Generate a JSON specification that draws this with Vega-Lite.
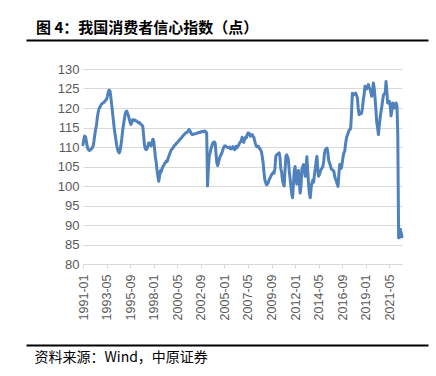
{
"$schema": "https://vega.github.io/schema/vega-lite/v6.json",
"width": 319, "height": 195,
"autosize": {"type": "none"},
"padding": {"left": 83, "top": 69, "right": 34, "bottom": 112},
"background": "white",
"config": {"view": {"stroke": null}},
"title": {"text": "图 4：我国消费者信心指数（点）", "anchor": "start", "frame": "group", "font": "Noto Sans CJK SC", "fontSize": 15, "fontWeight": "bold", "color": "black", "dx": -47},
"data": {"values": [
{"date":"1991-01-01","value":110.6},{"date":"1991-02-01","value":112.0},{"date":"1991-03-01","value":112.8},{"date":"1991-04-01","value":112.6},{"date":"1991-05-01","value":111.5},{"date":"1991-06-01","value":110.2},{"date":"1991-07-01","value":109.5},{"date":"1991-08-01","value":109.2},{"date":"1991-09-01","value":109.1},{"date":"1991-10-01","value":109.3},{"date":"1991-11-01","value":109.5},{"date":"1991-12-01","value":109.8},
{"date":"1992-01-01","value":110.2},{"date":"1992-02-01","value":111.5},{"date":"1992-03-01","value":113.0},{"date":"1992-04-01","value":114.5},{"date":"1992-05-01","value":115.5},{"date":"1992-06-01","value":117.5},{"date":"1992-07-01","value":118.8},{"date":"1992-08-01","value":119.8},{"date":"1992-09-01","value":120.2},{"date":"1992-10-01","value":120.6},{"date":"1992-11-01","value":121.0},{"date":"1992-12-01","value":121.2},
{"date":"1993-01-01","value":121.3},{"date":"1993-02-01","value":121.5},{"date":"1993-03-01","value":121.7},{"date":"1993-04-01","value":122.0},{"date":"1993-05-01","value":122.2},{"date":"1993-06-01","value":123.0},{"date":"1993-07-01","value":124.0},{"date":"1993-08-01","value":124.6},{"date":"1993-09-01","value":124.4},{"date":"1993-10-01","value":123.0},{"date":"1993-11-01","value":121.0},{"date":"1993-12-01","value":119.0},
{"date":"1994-01-01","value":117.0},{"date":"1994-02-01","value":115.0},{"date":"1994-03-01","value":113.5},{"date":"1994-04-01","value":112.0},{"date":"1994-05-01","value":110.5},{"date":"1994-06-01","value":109.5},{"date":"1994-07-01","value":108.8},{"date":"1994-08-01","value":108.5},{"date":"1994-09-01","value":109.0},{"date":"1994-10-01","value":110.3},{"date":"1994-11-01","value":112.0},{"date":"1994-12-01","value":114.0},
{"date":"1995-01-01","value":115.5},{"date":"1995-02-01","value":117.0},{"date":"1995-03-01","value":118.3},{"date":"1995-04-01","value":119.0},{"date":"1995-05-01","value":119.2},{"date":"1995-06-01","value":118.6},{"date":"1995-07-01","value":118.0},{"date":"1995-08-01","value":117.2},{"date":"1995-09-01","value":116.3},{"date":"1995-10-01","value":115.8},{"date":"1995-11-01","value":116.3},{"date":"1995-12-01","value":117.0},
{"date":"1996-01-01","value":117.0},{"date":"1996-02-01","value":116.8},{"date":"1996-03-01","value":116.9},{"date":"1996-04-01","value":116.7},{"date":"1996-05-01","value":116.6},{"date":"1996-06-01","value":116.4},{"date":"1996-07-01","value":116.2},{"date":"1996-08-01","value":116.3},{"date":"1996-09-01","value":116.0},{"date":"1996-10-01","value":115.8},{"date":"1996-11-01","value":115.6},{"date":"1996-12-01","value":115.3},
{"date":"1997-01-01","value":113.0},{"date":"1997-02-01","value":110.5},{"date":"1997-03-01","value":109.6},{"date":"1997-04-01","value":109.3},{"date":"1997-05-01","value":109.5},{"date":"1997-06-01","value":110.2},{"date":"1997-07-01","value":111.0},{"date":"1997-08-01","value":111.0},{"date":"1997-09-01","value":110.5},{"date":"1997-10-01","value":110.3},{"date":"1997-11-01","value":111.0},{"date":"1997-12-01","value":112.0},
{"date":"1998-01-01","value":111.5},{"date":"1998-02-01","value":109.5},{"date":"1998-03-01","value":107.5},{"date":"1998-04-01","value":106.0},{"date":"1998-05-01","value":104.0},{"date":"1998-06-01","value":102.5},{"date":"1998-07-01","value":101.2},{"date":"1998-08-01","value":102.5},{"date":"1998-09-01","value":104.0},{"date":"1998-10-01","value":103.6},{"date":"1998-11-01","value":104.5},{"date":"1998-12-01","value":105.0},
{"date":"1999-01-01","value":105.3},{"date":"1999-02-01","value":105.8},{"date":"1999-03-01","value":106.0},{"date":"1999-04-01","value":106.4},{"date":"1999-05-01","value":106.3},{"date":"1999-06-01","value":107.0},{"date":"1999-07-01","value":107.6},{"date":"1999-08-01","value":108.2},{"date":"1999-09-01","value":108.8},{"date":"1999-10-01","value":109.3},{"date":"1999-11-01","value":109.5},{"date":"1999-12-01","value":109.8},
{"date":"2000-01-01","value":110.2},{"date":"2000-02-01","value":110.5},{"date":"2000-03-01","value":110.6},{"date":"2000-04-01","value":111.0},{"date":"2000-05-01","value":111.1},{"date":"2000-06-01","value":111.4},{"date":"2000-07-01","value":111.6},{"date":"2000-08-01","value":111.9},{"date":"2000-09-01","value":112.2},{"date":"2000-10-01","value":112.3},{"date":"2000-11-01","value":112.7},{"date":"2000-12-01","value":112.9},
{"date":"2001-01-01","value":113.2},{"date":"2001-02-01","value":113.4},{"date":"2001-03-01","value":113.6},{"date":"2001-04-01","value":113.7},{"date":"2001-05-01","value":113.9},{"date":"2001-06-01","value":114.1},{"date":"2001-07-01","value":114.5},{"date":"2001-08-01","value":114.2},{"date":"2001-09-01","value":113.7},{"date":"2001-10-01","value":113.3},{"date":"2001-11-01","value":113.2},{"date":"2001-12-01","value":113.3},
{"date":"2002-01-01","value":113.3},{"date":"2002-02-01","value":113.4},{"date":"2002-03-01","value":113.4},{"date":"2002-04-01","value":113.5},{"date":"2002-05-01","value":113.6},{"date":"2002-06-01","value":113.6},{"date":"2002-07-01","value":113.8},{"date":"2002-08-01","value":113.7},{"date":"2002-09-01","value":113.8},{"date":"2002-10-01","value":114.0},{"date":"2002-11-01","value":114.0},{"date":"2002-12-01","value":113.9},
{"date":"2003-01-01","value":114.1},{"date":"2003-02-01","value":114.1},{"date":"2003-03-01","value":113.8},{"date":"2003-04-01","value":113.6},{"date":"2003-05-01","value":100.0},{"date":"2003-06-01","value":104.5},{"date":"2003-07-01","value":107.6},{"date":"2003-08-01","value":108.5},{"date":"2003-09-01","value":109.5},{"date":"2003-10-01","value":110.2},{"date":"2003-11-01","value":110.9},{"date":"2003-12-01","value":111.2},
{"date":"2004-01-01","value":111.3},{"date":"2004-02-01","value":111.0},{"date":"2004-03-01","value":108.5},{"date":"2004-04-01","value":106.0},{"date":"2004-05-01","value":105.2},{"date":"2004-06-01","value":106.0},{"date":"2004-07-01","value":107.0},{"date":"2004-08-01","value":107.6},{"date":"2004-09-01","value":108.0},{"date":"2004-10-01","value":108.5},{"date":"2004-11-01","value":109.2},{"date":"2004-12-01","value":109.8},
{"date":"2005-01-01","value":110.2},{"date":"2005-02-01","value":110.3},{"date":"2005-03-01","value":110.1},{"date":"2005-04-01","value":110.0},{"date":"2005-05-01","value":109.8},{"date":"2005-06-01","value":109.9},{"date":"2005-07-01","value":110.0},{"date":"2005-08-01","value":109.6},{"date":"2005-09-01","value":109.5},{"date":"2005-10-01","value":109.8},{"date":"2005-11-01","value":110.1},{"date":"2005-12-01","value":109.6},
{"date":"2006-01-01","value":109.3},{"date":"2006-02-01","value":109.5},{"date":"2006-03-01","value":110.2},{"date":"2006-04-01","value":109.8},{"date":"2006-05-01","value":110.2},{"date":"2006-06-01","value":110.5},{"date":"2006-07-01","value":111.0},{"date":"2006-08-01","value":111.3},{"date":"2006-09-01","value":111.5},{"date":"2006-10-01","value":112.5},{"date":"2006-11-01","value":111.5},{"date":"2006-12-01","value":111.2},
{"date":"2007-01-01","value":112.0},{"date":"2007-02-01","value":112.5},{"date":"2007-03-01","value":112.3},{"date":"2007-04-01","value":113.0},{"date":"2007-05-01","value":113.6},{"date":"2007-06-01","value":113.6},{"date":"2007-07-01","value":113.3},{"date":"2007-08-01","value":112.8},{"date":"2007-09-01","value":112.9},{"date":"2007-10-01","value":113.2},{"date":"2007-11-01","value":112.7},{"date":"2007-12-01","value":112.5},
{"date":"2008-01-01","value":111.5},{"date":"2008-02-01","value":110.8},{"date":"2008-03-01","value":110.2},{"date":"2008-04-01","value":110.0},{"date":"2008-05-01","value":110.2},{"date":"2008-06-01","value":110.0},{"date":"2008-07-01","value":109.5},{"date":"2008-08-01","value":109.3},{"date":"2008-09-01","value":108.7},{"date":"2008-10-01","value":107.5},{"date":"2008-11-01","value":105.9},{"date":"2008-12-01","value":103.5},
{"date":"2009-01-01","value":101.6},{"date":"2009-02-01","value":100.9},{"date":"2009-03-01","value":100.3},{"date":"2009-04-01","value":100.5},{"date":"2009-05-01","value":100.8},{"date":"2009-06-01","value":101.5},{"date":"2009-07-01","value":102.0},{"date":"2009-08-01","value":102.4},{"date":"2009-09-01","value":102.9},{"date":"2009-10-01","value":103.2},{"date":"2009-11-01","value":103.5},{"date":"2009-12-01","value":103.3},
{"date":"2010-01-01","value":104.5},{"date":"2010-02-01","value":107.6},{"date":"2010-03-01","value":108.0},{"date":"2010-04-01","value":108.1},{"date":"2010-05-01","value":108.3},{"date":"2010-06-01","value":108.5},{"date":"2010-07-01","value":107.5},{"date":"2010-08-01","value":104.5},{"date":"2010-09-01","value":103.5},{"date":"2010-10-01","value":101.5},{"date":"2010-11-01","value":100.5},{"date":"2010-12-01","value":100.0},
{"date":"2011-01-01","value":104.0},{"date":"2011-02-01","value":107.6},{"date":"2011-03-01","value":108.0},{"date":"2011-04-01","value":107.5},{"date":"2011-05-01","value":106.8},{"date":"2011-06-01","value":104.0},{"date":"2011-07-01","value":102.0},{"date":"2011-08-01","value":100.0},{"date":"2011-09-01","value":98.0},{"date":"2011-10-01","value":97.0},{"date":"2011-11-01","value":100.5},{"date":"2011-12-01","value":104.0},
{"date":"2012-01-01","value":105.0},{"date":"2012-02-01","value":102.0},{"date":"2012-03-01","value":100.5},{"date":"2012-04-01","value":102.5},{"date":"2012-05-01","value":104.0},{"date":"2012-06-01","value":101.0},{"date":"2012-07-01","value":98.2},{"date":"2012-08-01","value":100.0},{"date":"2012-09-01","value":104.2},{"date":"2012-10-01","value":105.0},{"date":"2012-11-01","value":105.5},{"date":"2012-12-01","value":104.0},
{"date":"2013-01-01","value":102.5},{"date":"2013-02-01","value":104.5},{"date":"2013-03-01","value":107.5},{"date":"2013-04-01","value":104.0},{"date":"2013-05-01","value":100.5},{"date":"2013-06-01","value":98.0},{"date":"2013-07-01","value":97.0},{"date":"2013-08-01","value":99.5},{"date":"2013-09-01","value":100.8},{"date":"2013-10-01","value":101.5},{"date":"2013-11-01","value":101.0},{"date":"2013-12-01","value":103.0},
{"date":"2014-01-01","value":104.5},{"date":"2014-02-01","value":106.5},{"date":"2014-03-01","value":107.6},{"date":"2014-04-01","value":104.0},{"date":"2014-05-01","value":102.5},{"date":"2014-06-01","value":103.0},{"date":"2014-07-01","value":103.8},{"date":"2014-08-01","value":104.3},{"date":"2014-09-01","value":104.6},{"date":"2014-10-01","value":105.0},{"date":"2014-11-01","value":106.5},{"date":"2014-12-01","value":108.5},
{"date":"2015-01-01","value":109.3},{"date":"2015-02-01","value":109.5},{"date":"2015-03-01","value":109.7},{"date":"2015-04-01","value":108.5},{"date":"2015-05-01","value":106.5},{"date":"2015-06-01","value":105.9},{"date":"2015-07-01","value":105.2},{"date":"2015-08-01","value":104.4},{"date":"2015-09-01","value":104.2},{"date":"2015-10-01","value":104.0},{"date":"2015-11-01","value":103.8},{"date":"2015-12-01","value":102.5},
{"date":"2016-01-01","value":101.8},{"date":"2016-02-01","value":101.2},{"date":"2016-03-01","value":100.5},{"date":"2016-04-01","value":99.9},{"date":"2016-05-01","value":103.0},{"date":"2016-06-01","value":105.5},{"date":"2016-07-01","value":105.0},{"date":"2016-08-01","value":104.6},{"date":"2016-09-01","value":106.0},{"date":"2016-10-01","value":107.6},{"date":"2016-11-01","value":108.5},{"date":"2016-12-01","value":109.0},
{"date":"2017-01-01","value":111.0},{"date":"2017-02-01","value":112.3},{"date":"2017-03-01","value":113.0},{"date":"2017-04-01","value":113.5},{"date":"2017-05-01","value":114.2},{"date":"2017-06-01","value":114.5},{"date":"2017-07-01","value":114.7},{"date":"2017-08-01","value":118.5},{"date":"2017-09-01","value":123.8},{"date":"2017-10-01","value":123.5},{"date":"2017-11-01","value":123.4},{"date":"2017-12-01","value":123.6},
{"date":"2018-01-01","value":123.8},{"date":"2018-02-01","value":123.2},{"date":"2018-03-01","value":122.6},{"date":"2018-04-01","value":120.0},{"date":"2018-05-01","value":118.3},{"date":"2018-06-01","value":118.5},{"date":"2018-07-01","value":118.5},{"date":"2018-08-01","value":118.7},{"date":"2018-09-01","value":120.0},{"date":"2018-10-01","value":122.0},{"date":"2018-11-01","value":123.5},{"date":"2018-12-01","value":125.6},
{"date":"2019-01-01","value":125.0},{"date":"2019-02-01","value":124.9},{"date":"2019-03-01","value":125.5},{"date":"2019-04-01","value":126.0},{"date":"2019-05-01","value":125.2},{"date":"2019-06-01","value":124.9},{"date":"2019-07-01","value":124.0},{"date":"2019-08-01","value":123.0},{"date":"2019-09-01","value":124.5},{"date":"2019-10-01","value":126.4},{"date":"2019-11-01","value":125.0},{"date":"2019-12-01","value":122.5},
{"date":"2020-01-01","value":119.5},{"date":"2020-02-01","value":116.2},{"date":"2020-03-01","value":115.0},{"date":"2020-04-01","value":113.2},{"date":"2020-05-01","value":115.5},{"date":"2020-06-01","value":117.4},{"date":"2020-07-01","value":119.0},{"date":"2020-08-01","value":120.4},{"date":"2020-09-01","value":122.0},{"date":"2020-10-01","value":123.4},{"date":"2020-11-01","value":123.6},{"date":"2020-12-01","value":123.8},
{"date":"2021-01-01","value":126.8},{"date":"2021-02-01","value":124.0},{"date":"2021-03-01","value":121.3},{"date":"2021-04-01","value":121.5},{"date":"2021-05-01","value":121.7},{"date":"2021-06-01","value":120.5},{"date":"2021-07-01","value":118.0},{"date":"2021-08-01","value":119.5},{"date":"2021-09-01","value":121.3},{"date":"2021-10-01","value":120.8},{"date":"2021-11-01","value":120.0},{"date":"2021-12-01","value":120.5},
{"date":"2022-01-01","value":121.3},{"date":"2022-02-01","value":120.5},{"date":"2022-03-01","value":113.2},{"date":"2022-04-01","value":86.7},{"date":"2022-05-01","value":86.8},{"date":"2022-06-01","value":88.9},{"date":"2022-07-01","value":87.9},{"date":"2022-08-01","value":87.0}
]},
"layer": [
{
"mark": {"type": "line", "color": "#4f81bd", "strokeWidth": 3, "strokeJoin": "round", "strokeCap": "round"},
"encoding": {
"x": {"field": "date", "type": "temporal",
"scale": {"type": "utc", "domain": [{"year": 1991, "month": 1, "date": 1, "utc": true}, {"year": 2022, "month": 8, "date": 1, "utc": true}], "nice": false},
"axis": {"orient": "bottom", "values": [
{"year": 1991, "month": 1, "date": 1, "utc": true},{"year": 1993, "month": 5, "date": 1, "utc": true},{"year": 1995, "month": 9, "date": 1, "utc": true},{"year": 1998, "month": 1, "date": 1, "utc": true},{"year": 2000, "month": 5, "date": 1, "utc": true},{"year": 2002, "month": 9, "date": 1, "utc": true},{"year": 2005, "month": 1, "date": 1, "utc": true},{"year": 2007, "month": 5, "date": 1, "utc": true},{"year": 2009, "month": 9, "date": 1, "utc": true},{"year": 2012, "month": 1, "date": 1, "utc": true},{"year": 2014, "month": 5, "date": 1, "utc": true},{"year": 2016, "month": 9, "date": 1, "utc": true},{"year": 2019, "month": 1, "date": 1, "utc": true},{"year": 2021, "month": 5, "date": 1, "utc": true}],
"format": "%Y-%m", "labelAngle": -90, "labelFlush": false, "labelOverlap": false, "labelFont": "Liberation Sans", "labelFontSize": 12.5, "labelColor": "#595959", "labelPadding": 6,
"grid": false, "domainColor": "#d9d9d9", "domainWidth": 1, "tickColor": "#d9d9d9", "tickSize": 4,
"title": "资料来源：Wind，中原证券", "titleAnchor": "start", "titleAlign": "left", "titleX": -49, "titleY": 97, "titleBaseline": "alphabetic", "titleFont": "Noto Sans CJK SC", "titleFontSize": 14, "titleFontWeight": "normal", "titleColor": "black"}},
"y": {"field": "value", "type": "quantitative", "scale": {"domain": [80, 130], "nice": false, "zero": false},
"axis": {"values": [80, 85, 90, 95, 100, 105, 110, 115, 120, 125, 130], "labelOverlap": false, "grid": true, "gridColor": "#d9d9d9", "gridWidth": 1, "domain": false, "ticks": false, "labelPadding": 4, "labelFont": "Liberation Sans", "labelFontSize": 13, "labelColor": "#595959", "title": null}}
}
},
{
"mark": {"type": "line", "opacity": 0},
"encoding": {
"x": {"field": "date", "type": "temporal", "scale": {"type": "utc", "range": [-57, 345]},
"axis": {"orient": "bottom", "offset": -224, "labels": false, "ticks": false, "grid": false, "title": null, "domainColor": "black", "domainWidth": 2, "domainCap": "butt"}},
"y": {"field": "value", "type": "quantitative", "scale": {"domain": [80, 130], "nice": false, "zero": false},
"axis": {"values": [80, 85, 90, 95, 100, 105, 110, 115, 120, 125, 130], "labelOverlap": false, "grid": true, "gridColor": "#d9d9d9", "gridWidth": 1, "domain": false, "ticks": false, "labelPadding": 4, "labelFont": "Liberation Sans", "labelFontSize": 13, "labelColor": "#595959", "title": null}}
}
},
{
"mark": {"type": "line", "opacity": 0},
"encoding": {
"x": {"field": "date", "type": "temporal", "scale": {"type": "utc", "range": [-57, 345]},
"axis": {"orient": "bottom", "offset": 81, "labels": false, "ticks": false, "grid": false, "title": null, "domainColor": "black", "domainWidth": 2, "domainCap": "butt"}},
"y": {"field": "value", "type": "quantitative", "scale": {"domain": [80, 130], "nice": false, "zero": false},
"axis": {"values": [80, 85, 90, 95, 100, 105, 110, 115, 120, 125, 130], "labelOverlap": false, "grid": true, "gridColor": "#d9d9d9", "gridWidth": 1, "domain": false, "ticks": false, "labelPadding": 4, "labelFont": "Liberation Sans", "labelFontSize": 13, "labelColor": "#595959", "title": null}}
}
}
],
"resolve": {"scale": {"x": "independent"}, "axis": {"x": "independent"}}
}
